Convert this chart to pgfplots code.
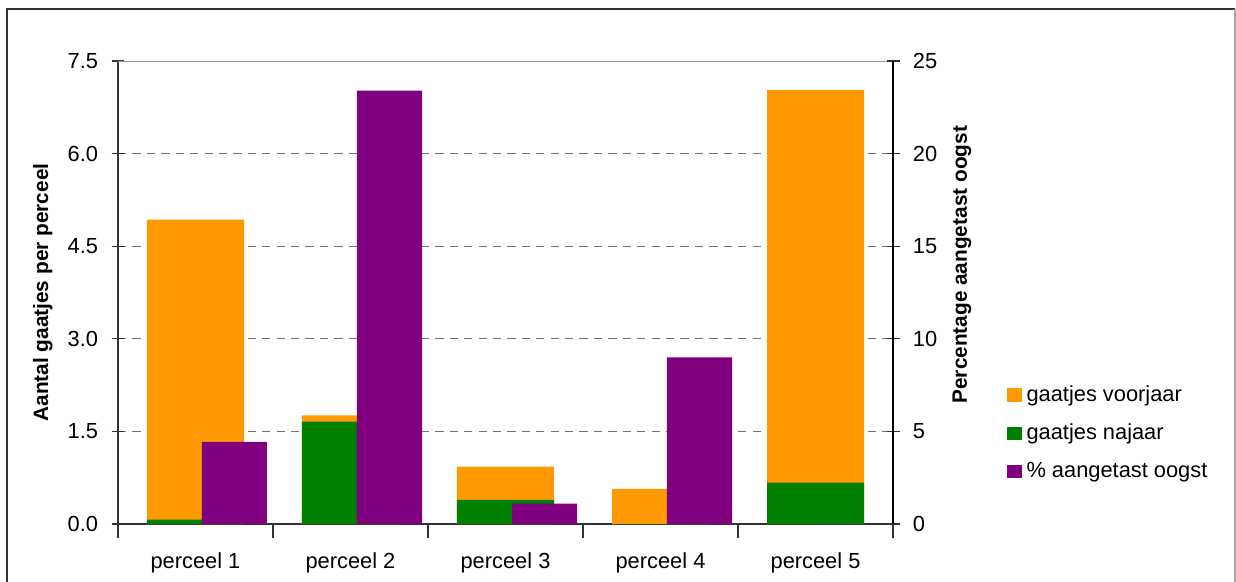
\documentclass[border=0pt]{standalone}
\usepackage{pgfplots}
\pgfplotsset{compat=1.18}
\usepackage{fontspec}
\setmainfont{Liberation Sans}
\definecolor{cOrange}{RGB}{255,153,0}
\definecolor{cGreen}{RGB}{0,128,0}
\definecolor{cPurple}{RGB}{128,0,128}
\pgfplotsset{
  legsq/.style={legend image code/.code={\fill[##1] (0pt,-3.3pt) rectangle (7.3pt,3.3pt);}},
}
\begin{document}
\begin{tikzpicture}
\path[use as bounding box] (-57.28pt,-27.67pt) rectangle (542.68pt,254.35pt);
\draw[black!80, line width=1.1pt] (-53.88pt,-40pt) -- (-53.88pt,249.98pt) -- (542.19pt,249.98pt);
\draw[black!35, line width=0.9pt] (542.19pt,249.98pt) -- (542.19pt,-40pt);
\begin{axis}[
  at={(0pt,0pt)}, anchor=south west,
  scale only axis, width=376.2pt, height=224.7pt,
  xmin=-0.5, xmax=4.5, ymin=0, ymax=7.5,
  axis x line*=bottom, axis y line*=left,
  axis line style={black!80, line width=0.7pt},
  ytick={0,1.5,3,4.5,6,7.5},
  yticklabel style={/pgf/number format/fixed, /pgf/number format/fixed zerofill, /pgf/number format/precision=1},
  /pgf/number format/assume math mode=true,
  ymajorgrids, grid style={dash pattern=on 4pt off 3pt, black!55, line width=0.55pt},
  xtick={0,1,2,3,4},
  xticklabels={perceel 1,perceel 2,perceel 3,perceel 4,perceel 5},
  minor xtick={-0.5,0.5,1.5,2.5,3.5,4.5},
  tick align=center, major tick length=6.3pt, minor tick length=6.8pt,
  tick style={black!80, line width=0.6pt},
  major x tick style={draw=none},
  minor x tick style={yshift=-3.4pt},
  ticklabel style={font=\fontsize{10.6}{12}\selectfont},
  xticklabel style={yshift=-7pt},
  yticklabel style={xshift=-3pt},
  ylabel={Aantal gaatjes per perceel},
  ylabel style={at={(rel axis cs:-0.097,0.5)}, anchor=center, font=\bfseries\fontsize{10.1}{12}\selectfont},
]
\addplot[ybar, bar width=0.626, bar shift=0pt, fill=cOrange, draw=none]
  coordinates {(0,4.93) (1,1.76) (2,0.93) (3,0.57) (4,7.03)};
\addplot[ybar, bar width=0.626, bar shift=0pt, fill=cGreen, draw=none]
  coordinates {(0,0.07) (1,1.66) (2,0.39) (3,0) (4,0.67)};
\draw[black!40, line width=0.8pt] (rel axis cs:0,1) -- (rel axis cs:1,1);
\end{axis}
\begin{axis}[
  at={(0pt,0pt)}, anchor=south west,
  scale only axis, width=376.2pt, height=224.7pt,
  xmin=-0.5, xmax=4.5, ymin=0, ymax=25,
  axis x line=none, axis y line*=right,
  axis line style={black, line width=0.7pt},
  ytick={0,5,10,15,20,25},
  /pgf/number format/assume math mode=true,
  tick align=center, major tick length=6.3pt,
  tick style={black!80, line width=0.6pt},
  ticklabel style={font=\fontsize{10.6}{12}\selectfont},
  yticklabel style={xshift=3pt},
  ylabel={Percentage aangetast oogst},
  ylabel style={at={(rel axis cs:1.089,0.56)}, anchor=center, font=\bfseries\fontsize{10.1}{12}\selectfont},
  legend style={draw=none, fill=none, at={(rel axis cs:1.139,0.1965)}, anchor=west,
    font=\fontsize{10.6}{12}\selectfont, row sep=5.5pt, legend cell align=left},
]
\addlegendimage{legsq, fill=cOrange, draw=none}
\addlegendentry{gaatjes voorjaar}
\addlegendimage{legsq, fill=cGreen, draw=none}
\addlegendentry{gaatjes najaar}
\addplot[ybar, bar width=0.42, bar shift=18.9pt, fill=cPurple, draw=none, legsq]
  coordinates {(0,4.43) (1,23.4) (2,1.1) (3,9.0) (4,0)};
\addlegendentry{\% aangetast oogst}
\end{axis}
\end{tikzpicture}
\end{document}
